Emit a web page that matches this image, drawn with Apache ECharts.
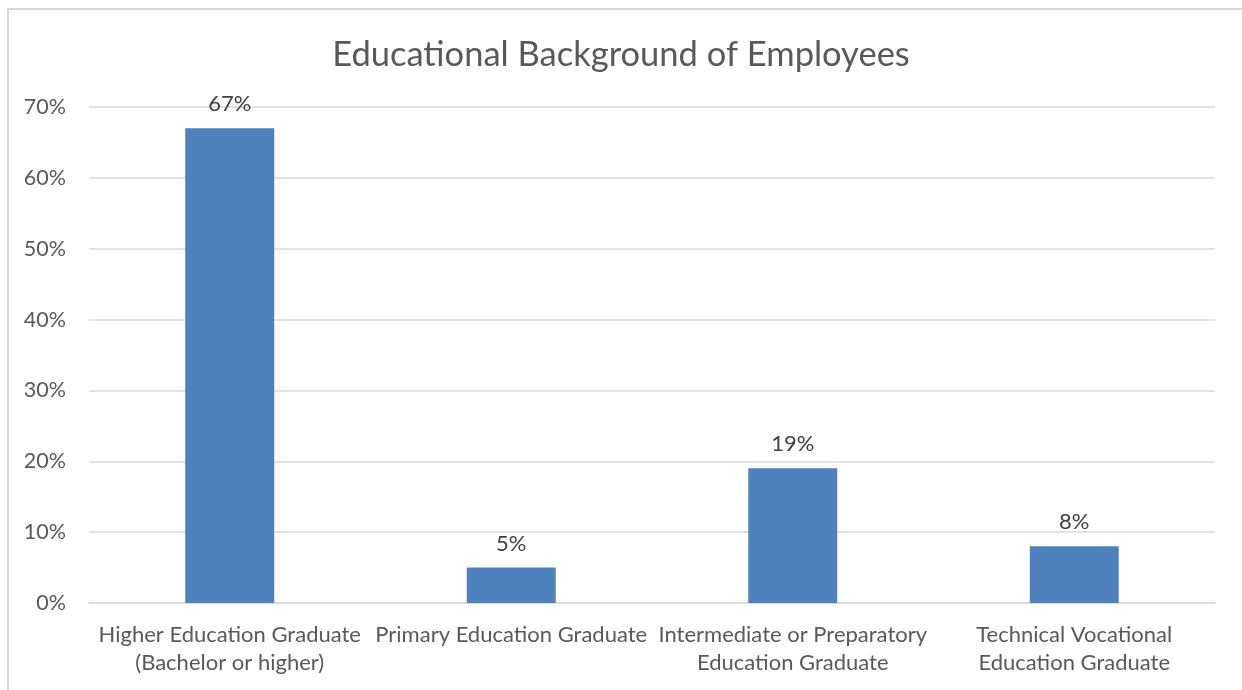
<!DOCTYPE html>
<html>
<head>
<meta charset="utf-8">
<script src="https://cdn.jsdelivr.net/npm/echarts@6/dist/echarts.min.js"></script>
<style>
  html, body { margin: 0; padding: 0; background: #ffffff; }
  #chart { width: 1242px; height: 690px; }
</style>
</head>
<body>
<div id="chart"></div>
<script>
// Share of employees by highest completed education level (percent)
const categories = [
  'Higher Education Graduate\n(Bachelor or higher)',
  'Primary Education Graduate',
  'Intermediate or Preparatory\nEducation Graduate',
  'Technical Vocational\nEducation Graduate'
];
const shares = [67, 5, 19, 8];
const yTicks = [0, 10, 20, 30, 40, 50, 60, 70];

const FONT = 'Lato, "Open Sans", sans-serif';
const chart = echarts.init(document.getElementById('chart'), null, { renderer: 'canvas' });

chart.setOption({
  animation: false,
  backgroundColor: '#ffffff',
  textStyle: { fontFamily: FONT },
  title: {
    text: 'Educational Background of Employees',
    left: 'center',
    top: 32,
    textStyle: { fontFamily: FONT, fontSize: 34.5, fontWeight: 'normal', color: '#595959' }
  },
  graphic: [{
    type: 'rect',
    silent: true,
    shape: { x: 8, y: 9, width: 1260, height: 720 },
    style: { fill: 'none', stroke: '#d9d9d9', lineWidth: 2 }
  }],
  grid: { left: 89, right: 27, top: 107, bottom: 87, containLabel: false },
  xAxis: {
    type: 'category',
    data: categories,
    axisLine: { show: true, lineStyle: { color: '#d9d9d9', width: 1.5 } },
    axisTick: { show: false },
    axisLabel: {
      interval: 0,
      margin: 18,
      fontFamily: FONT,
      fontSize: 22,
      lineHeight: 28,
      color: '#595959'
    }
  },
  yAxis: {
    type: 'value',
    min: yTicks[0],
    max: yTicks[yTicks.length - 1],
    interval: 10,
    axisLine: { show: false },
    axisTick: { show: false },
    splitLine: { lineStyle: { color: '#d9d9d9', width: 1.5 } },
    axisLabel: {
      margin: 23,
      fontFamily: FONT,
      fontSize: 21.5,
      color: '#595959',
      formatter: v => v + '%'
    }
  },
  series: [{
    type: 'bar',
    data: shares,
    barWidth: '31.6%',
    itemStyle: { color: '#4f81bd' },
    label: {
      show: true,
      position: 'top',
      distance: 13,
      fontFamily: FONT,
      fontSize: 22,
      color: '#404040',
      formatter: p => Math.round(p.value) + '%'
    }
  }]
});
</script>
</body>
</html>
